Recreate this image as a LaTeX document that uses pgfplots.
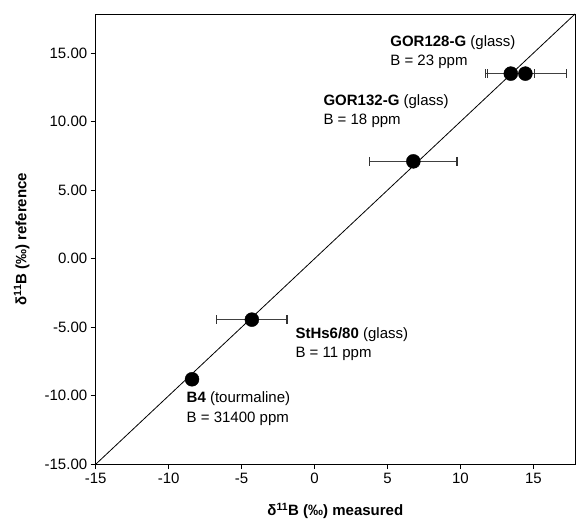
\documentclass[border=0pt]{standalone}
\usepackage{fontspec}
\setmainfont{Liberation Sans}
\usepackage{pgfplots}
\pgfplotsset{compat=1.18}
\begin{document}
\begin{tikzpicture}
\begin{axis}[
 scale only axis, width=479pt, height=450pt,
 xmin=-15, xmax=17.85, ymin=-15, ymax=17.85,
 xtick={-15,-10,-5,0,5,10,15}, ytick={-15,-10,-5,0,5,10,15},
 tick align=outside, tick pos=left, major tick length=5pt,
 axis line style={line width=0.9pt}, tick style={black,line width=0.9pt},
 /pgf/number format/assume math mode=true,
 yticklabel style={/pgf/number format/.cd, fixed, fixed zerofill, precision=2},
 ticklabel style={font=\fontsize{15}{17}\selectfont},
 xlabel={δ\textsuperscript{11}B (‰) measured},
 ylabel={δ\textsuperscript{11}B (‰) reference},
 label style={font=\bfseries\fontsize{15}{17}\selectfont},
 xlabel style={at={(axis description cs:0.5,-0.1044)}, anchor=center},
 ylabel style={at={(axis description cs:-0.1545,0.5)}, anchor=center},
 clip=false,
 errbar/.style={black!75, line width=1.5pt, mark=|, mark size=4.5pt, mark options={solid, line width=1.3pt, black!80}},
]
\addplot[black, line width=0.8pt] coordinates {(-15,-15) (17.85,17.85)};
% horizontal error bars (lower and upper ends)
\addplot[errbar] coordinates {(-6.7,-4.45) (-1.9,-4.45)};
\addplot[errbar] coordinates {(3.77,7.1) (9.77,7.1)};
\addplot[errbar] coordinates {(11.7,13.5) (15.05,13.5)};
\addplot[errbar] coordinates {(11.85,13.5) (17.25,13.5)};
\addplot[only marks, mark=*, mark size=7pt, black] coordinates {
 (-8.4,-8.8) (-4.3,-4.45) (6.77,7.1) (13.45,13.5) (14.45,13.5)
};
\tikzset{ann/.style={anchor=west, inner sep=0pt, text height=10pt, text depth=3pt, font=\fontsize{15}{17}\selectfont}}
\node[ann] at (axis cs:5.18,15.74) {\textbf{GOR128-G} (glass)};
\node[ann] at (axis cs:5.18,14.35) {B = 23 ppm};
\node[ann] at (axis cs:0.6,11.4) {\textbf{GOR132-G} (glass)};
\node[ann] at (axis cs:0.6,10.07) {B = 18 ppm};
\node[ann] at (axis cs:-1.32,-5.55) {\textbf{StHs6/80} (glass)};
\node[ann] at (axis cs:-1.32,-6.93) {B = 11 ppm};
\node[ann] at (axis cs:-8.78,-10.24) {\textbf{B4} (tourmaline)};
\node[ann] at (axis cs:-8.78,-11.68) {B = 31400 ppm};
\end{axis}
\pgfresetboundingbox
\path ([shift={(-95.7pt,-55.7pt)}]current axis.south west) rectangle ([shift={(3pt,14pt)}]current axis.north east);
\end{tikzpicture}
\end{document}
